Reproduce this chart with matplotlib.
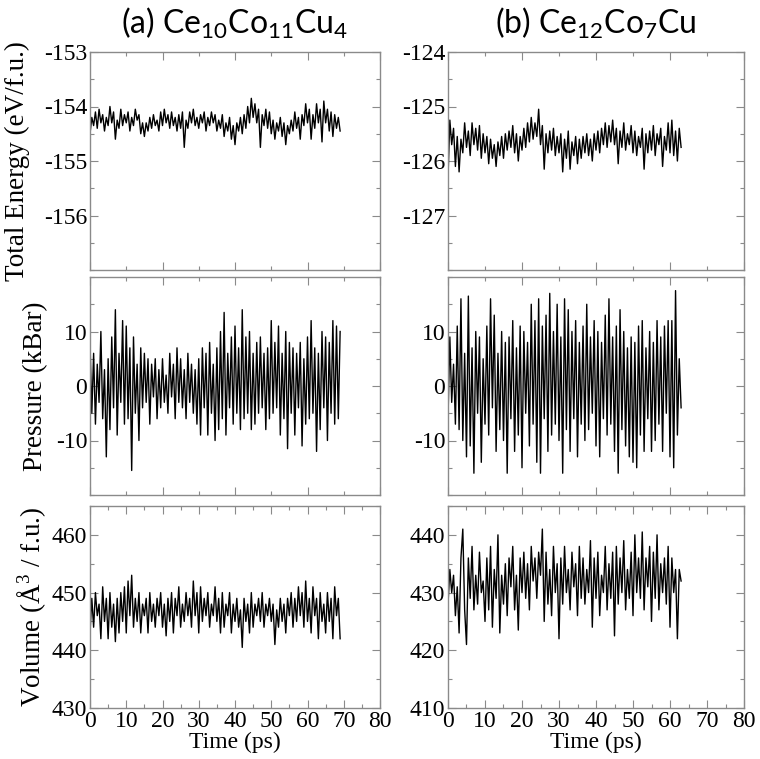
import numpy as np
import matplotlib
matplotlib.use("Agg")
from matplotlib import pyplot as plt
from matplotlib.ticker import MultipleLocator

# Total energy (eV/f.u.), sampled every 0.5 ps
e_a = [-154.50, -154.20, -154.35, -154.10, -154.40, -154.05, -154.30, -154.15, -154.45, -154.20,
       -154.35, -154.00, -154.30, -154.10, -154.60, -154.25, -154.40, -154.05, -154.35, -154.15,
       -154.30, -154.10, -154.45, -154.20, -154.35, -154.05, -154.25, -154.15, -154.50, -154.30,
       -154.55, -154.30, -154.45, -154.20, -154.40, -154.15, -154.35, -154.25, -154.45, -154.10,
       -154.35, -154.05, -154.30, -154.15, -154.40, -154.10, -154.35, -154.20, -154.45, -154.15,
       -154.40, -154.10, -154.75, -154.25, -154.40, -154.10, -154.30, -154.05, -154.35, -154.20,
       -154.40, -154.15, -154.30, -154.10, -154.45, -154.20, -154.35, -154.10, -154.30, -154.15,
       -154.45, -154.25, -154.40, -154.15, -154.55, -154.30, -154.45, -154.20, -154.60, -154.35,
       -154.70, -154.30, -154.45, -154.20, -154.50, -154.15, -154.40, -154.00, -154.30, -153.85,
       -154.20, -153.95, -154.30, -154.05, -154.75, -154.15, -154.35, -154.05, -154.40, -154.10,
       -154.50, -154.25, -154.60, -154.30, -154.45, -154.20, -154.55, -154.30, -154.70, -154.35,
       -154.50, -154.25, -154.45, -154.10, -154.40, -154.20, -154.60, -154.15, -154.35, -153.95,
       -154.30, -154.05, -154.60, -154.15, -154.40, -153.95, -154.30, -154.05, -154.65, -153.90,
       -154.30, -154.05, -154.45, -154.10, -154.55, -154.15, -154.40, -154.20, -154.45]
e_b = [-126.30, -125.25, -125.70, -125.40, -126.10, -125.55, -126.20, -125.60, -125.85, -125.30,
       -125.75, -125.45, -125.90, -125.30, -125.70, -125.40, -125.80, -125.35, -125.95, -125.50,
       -125.85, -125.55, -126.05, -125.60, -125.95, -125.70, -126.10, -125.65, -125.90, -125.55,
       -125.95, -125.50, -125.80, -125.45, -125.75, -125.35, -125.85, -125.50, -126.00, -125.55,
       -125.80, -125.40, -125.75, -125.30, -125.65, -125.20, -125.60, -125.30, -125.55, -125.05,
       -125.70, -125.35, -126.15, -125.50, -125.85, -125.45, -125.80, -125.40, -125.90, -125.55,
       -125.85, -125.50, -126.20, -125.60, -125.95, -125.45, -126.15, -125.65, -125.90, -125.55,
       -126.05, -125.60, -125.95, -125.55, -125.85, -125.50, -125.90, -125.60, -126.00, -125.50,
       -125.80, -125.45, -125.85, -125.40, -125.70, -125.30, -125.75, -125.35, -125.65, -125.25,
       -125.70, -125.40, -126.05, -125.45, -125.75, -125.30, -125.80, -125.50, -125.70, -125.35,
       -125.85, -125.45, -125.90, -125.55, -125.75, -125.40, -126.15, -125.50, -125.85, -125.45,
       -125.80, -125.35, -125.90, -125.50, -125.70, -125.40, -126.10, -125.55, -125.80, -125.30,
       -125.85, -125.25, -125.90, -125.45, -126.00, -125.40, -125.75]

# Pressure (kBar)
p_a = [8, -5, 6, -7, 4, -3, 10, -6, 3, -13,
       5, -8, 9, -4, 14, -9, 6, -3, 12, -7,
       11, -6, 7, -15.5, 9, -5, 4, -10, 7, -4,
       6, -3, 5, -7, 4, -2, 5, -6, 3, -4,
       5, -3, 2, -5, 6, -2, 4, -6, 7, -3,
       5, -4, 3, -6, 6, -3, 4, -5, 3, -7,
       5, -9, 7, -4, 6, -9, 8, -5, 4, -10,
       7, -8, 10, -6, 13.5, -9, 6, -4, 9, -7,
       11, -5, 7, -8, 14, -6, 9, -5, 10, -8,
       6, -7, 8, -5, 9, -4, 6, -8, 7, -6,
       12, -5, 8, -4, 11, -9, 6, -6, 10, -11.5,
       8, -5, 7, -9, 6, -4, 8, -11, 5, -7,
       9, -6, 12, -5, 7, -12, 6, -8, 10, -4,
       9, -10, 8, -5, 12, -7, 11, -6, 10]
p_b = [-6, 9, -3, 4, -7, 11, -8, 16, -10, 6,
       -13, 16.5, -11, 7, -16, 10, -5, 9, -14, 5,
       -7, 11, -9, 16, -4, 13, -12, 6, -8, 10,
       -10, 8, -16, 9, -6, 12, -12, 7, -9, 11,
       -15, 10, -5, 8, -11, 15, -7, 12, -14, 16,
       -16, 11, -6, 13, -12, 17, -9, 10, -7, 15,
       -10, 9, -16, 16, -8, 14, -12, 10, -6, 12,
       -13, 8, -7, 11, -10, 15, -8, 9, -5, 12,
       -11, 10, -13, 8, -6, 13, -9, 16, -7, 9,
       -12, 11, -16, 14, -8, 10, -11, 7, -13, 9,
       -14, 8, -15, 11, -9, 12, -12, 7, -6, 10,
       -12, 8, -10, 12, -7, 9, -12, 11, -5, 12,
       -13, 12, -15, 17.5, -9, 5, -4]

# Volume (A^3 / f.u.)
v_a = [443, 449, 444, 450, 446, 448, 442, 451, 445, 449,
       442, 450, 444, 448, 441.5, 449, 443, 450, 445, 451,
       443, 452, 446, 453, 444, 449, 445, 450, 443, 448,
       446, 449, 443, 450, 445, 448, 444, 449, 446, 450,
       444, 448, 442.5, 449, 445, 450, 443, 449, 446, 451,
       444, 448, 445, 450, 446, 449, 444, 452, 446, 450,
       443, 451, 445, 449, 446, 450, 444, 448, 446, 451,
       445, 449, 443, 450, 444, 448, 446, 450, 443, 448,
       445, 449, 444, 447, 440.5, 449, 445, 448, 443, 450,
       444, 448, 446, 449, 445, 450, 444, 448, 446, 449,
       445, 448, 441, 447, 444, 449, 445, 448, 443, 449,
       446, 450, 444, 449, 445, 451, 446, 450, 444, 452,
       445, 449, 443, 451, 446, 449, 442, 450, 445, 448,
       443, 450, 445, 449, 442, 451, 446, 449, 442]
v_b = [428, 434, 430, 433, 426, 431, 423, 436, 441, 427,
       421, 436, 429, 438, 427, 433, 428, 437, 430, 432,
       425, 436, 427, 438, 424, 434, 429, 440, 423, 433,
       428, 435, 426, 436, 431, 438, 427, 433, 423.5, 436,
       430, 437, 429, 435, 427, 438, 432, 436, 429, 437,
       433, 441, 425, 437, 428, 434, 426, 438, 430, 435,
       422, 436, 428, 438, 430, 434, 427, 437, 431, 435,
       426, 438, 429, 436, 428, 434, 430, 439, 424, 436,
       429, 437, 426, 433, 430, 438, 427, 435, 429, 437,
       422.5, 438, 428, 436, 430, 439, 427, 434, 429, 437,
       426, 440, 430, 436, 429, 440.5, 427, 436, 431, 438,
       425, 437, 429, 440, 427, 435, 430, 436, 428, 438,
       424, 436, 430, 434, 422, 434, 432]

t_a = np.linspace(0, 69, len(e_a))
t_b = np.linspace(0, 63, len(e_b))

titles = [r"(a) Ce$_{\mathregular{10}}$Co$_{\mathregular{11}}$Cu$_{\mathregular{4}}$",
          r"(b) Ce$_{\mathregular{12}}$Co$_{\mathregular{7}}$Cu"]
ylabels = ["Total Energy (eV/f.u.)", "Pressure (kBar)",
           r"Volume ($\mathregular{\AA}^{\mathregular{3}}$ / f.u.)"]

# labelled y ticks per row and column
yticks = [[[-156, -155, -154, -153], [-127, -126, -125, -124]],
          [[-10, 0, 10], [-10, 0, 10]],
          [[430, 440, 450, 460], [410, 420, 430, 440]]]

plt.rcParams["font.family"] = ["Liberation Serif", "DejaVu Serif"]
plt.rcParams["font.size"] = 17
plt.rcParams["axes.unicode_minus"] = False

W, H = 760, 759
fig = plt.figure(figsize=(W / 100, H / 100), dpi=100)

cols = [(90, 380), (448, 744)]
rows = [(52, 270), (277, 495), (506, 708)]

series = [[(t_a, e_a), (t_b, e_b)],
          [(t_a, p_a), (t_b, p_b)],
          [(t_a, v_a), (t_b, v_b)]]
ylims = [[(-157, -153), (-128, -124)],
         [(-20, 20), (-20, 20)],
         [(430, 465), (410, 445)]]
yminor = [0.5, 5, 5]

frame = "#8a8a8a"
for r, (top, bot) in enumerate(rows):
    for c, (lft, rgt) in enumerate(cols):
        ax = fig.add_axes([lft / W, 1 - bot / H, (rgt - lft) / W, (bot - top) / H])
        x, y = series[r][c]
        ax.plot(x, y, color="black", lw=1.0)
        ax.set_xlim(0, 80)
        ax.set_ylim(*ylims[r][c])
        ax.set_yticks(yticks[r][c])
        ax.yaxis.set_minor_locator(MultipleLocator(yminor[r]))
        if r == 2:
            ax.xaxis.set_major_locator(MultipleLocator(10))
            ax.xaxis.set_minor_locator(MultipleLocator(5))
        else:
            ax.xaxis.set_major_locator(MultipleLocator(20))
            ax.xaxis.set_minor_locator(MultipleLocator(10))
            ax.set_xticklabels([])
        ax.tick_params(which="both", direction="in", top=True, right=True,
                       color=frame, width=0.8)
        ax.tick_params(which="major", length=6, pad=2)
        ax.tick_params(which="minor", length=3)
        for s in ax.spines.values():
            s.set_color(frame)
            s.set_linewidth(1.0)
        if r == 2:
            fig.text((lft + rgt) / 2 / W, 1 - 742 / H, "Time (ps)",
                     ha="center", va="center", fontsize=17)

for c, (lft, rgt) in enumerate(cols):
    fig.text((lft + rgt) / 2 / W, 1 - 23 / H, titles[c], ha="center", va="center",
             fontsize=23, family=["Lato", "DejaVu Sans"])

label_x = [17, 36, 32]
for r, (top, bot) in enumerate(rows):
    fig.text(label_x[r] / W, 1 - (top + bot) / 2 / H, ylabels[r], rotation=90,
             ha="center", va="center", fontsize=19.5)

fig.savefig("out.png", dpi=100)
